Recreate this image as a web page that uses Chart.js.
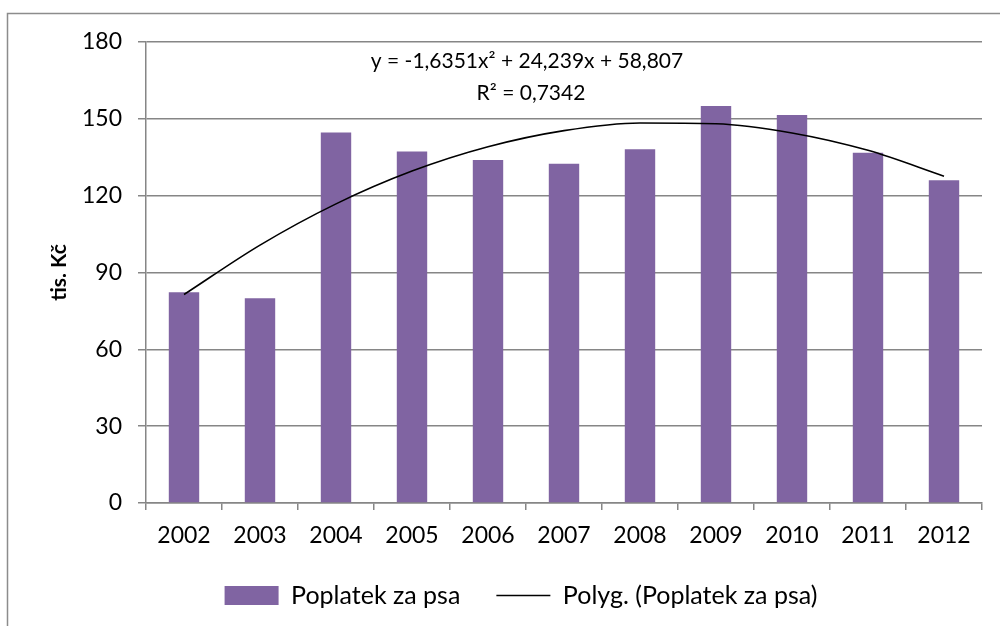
<!DOCTYPE html>
<html>
<head>
<meta charset="utf-8">
<script src="https://cdn.jsdelivr.net/npm/chart.js@4"></script>
<style>
  html, body { margin: 0; padding: 0; background: #fff; }
  #wrap { width: 1000px; height: 626px; position: relative; }
</style>
</head>
<body>
<div id="wrap"><canvas id="chart"></canvas></div>
<script>
const years = ["2002", "2003", "2004", "2005", "2006", "2007", "2008", "2009", "2010", "2011", "2012"];
const fees = [82.3, 79.9, 144.7, 137.2, 133.9, 132.5, 138.1, 155.0, 151.5, 136.8, 126.0];
// trend line values at each year
const trend = [81.4, 100.7, 116.8, 129.6, 139.1, 145.4, 148.4, 148.1, 144.5, 137.7, 127.6];
const yTicks = [0, 30, 60, 90, 120, 150, 180];

const gridGray = '#868686';
const fontFam = 'Lato, "Open Sans", sans-serif';

// frame, axis title + trend equation
const extras = {
    id: 'extras',
    beforeDraw(chart) {
        const ctx = chart.ctx;
        ctx.save();
        ctx.fillStyle = '#fff';
        ctx.fillRect(0, 0, chart.width, chart.height);
        ctx.strokeStyle = '#8c8c8c';
        ctx.lineWidth = 1.5;
        ctx.strokeRect(7.5, 13.5, 1200, 1000);
        ctx.restore();
    },
    afterDraw(chart) {
        const ctx = chart.ctx;
        const area = chart.chartArea;
        ctx.save();
        ctx.fillStyle = '#000';
        ctx.font = '21px ' + fontFam;
        ctx.textAlign = 'center';
        ctx.textBaseline = 'middle';
        ctx.fillText('y = -1,6351x² + 24,239x + 58,807', 527, 61);
        ctx.fillText('R² = 0,7342', 531, 93);

        ctx.translate(59, (area.top + area.bottom) / 2);
        ctx.rotate(-Math.PI / 2);
        ctx.font = 'bold 21px ' + fontFam;
        ctx.fillText('tis. Kč', 0, 0);
        ctx.restore();
    }
};

const ctx = document.getElementById('chart').getContext('2d');
new Chart(ctx, {
    data: {
        labels: years,
        datasets: [{
            type: 'bar',
            label: 'Poplatek za psa',
            data: fees,
            backgroundColor: '#8064A2',
            borderWidth: 0,
            barPercentage: 0.4,
            categoryPercentage: 1,
            pointStyle: 'rect',
            order: 2
        }, {
            type: 'line',
            label: 'Polyg. (Poplatek za psa)',
            data: trend,
            borderColor: '#000',
            backgroundColor: '#000',
            borderWidth: 1.6,
            pointRadius: 0,
            fill: false,
            cubicInterpolationMode: 'monotone',
            pointStyle: 'line',
            order: 1
        }]
    },
    options: {
        responsive: true,
        maintainAspectRatio: false,
        animation: false,
        layout: { padding: { left: 60, right: 18, top: 42, bottom: 8 } },
        plugins: {
            tooltip: { enabled: false },
            legend: {
                position: 'bottom',
                labels: {
                    usePointStyle: true,
                    pointStyleWidth: 54,
                    boxHeight: 19,
                    padding: 36,
                    color: '#000',
                    font: { family: fontFam, size: 25 },
                    sort: (a, b) => a.datasetIndex - b.datasetIndex
                }
            }
        },
        scales: {
            x: {
                grid: {
                    offset: true,
                    drawOnChartArea: false,
                    drawTicks: true,
                    tickLength: 7,
                    color: gridGray,
                    lineWidth: 1.5
                },
                border: { color: gridGray, width: 1.5 },
                ticks: {
                    color: '#000',
                    padding: 12,
                    font: { family: fontFam, size: 23 }
                },
                afterFit(s) { s.height = 44; }
            },
            y: {
                min: 0,
                max: 180,
                afterBuildTicks(s) { s.ticks = yTicks.map(v => ({ value: v })); },
                grid: {
                    color: gridGray,
                    lineWidth: 1.5,
                    tickLength: 8
                },
                border: { color: gridGray, width: 1.5 },
                ticks: {
                    color: '#000',
                    padding: 16,
                    font: { family: fontFam, size: 23 }
                },
                afterFit(s) { s.width = 86; }
            }
        }
    },
    plugins: [extras]
});
</script>
</body>
</html>
